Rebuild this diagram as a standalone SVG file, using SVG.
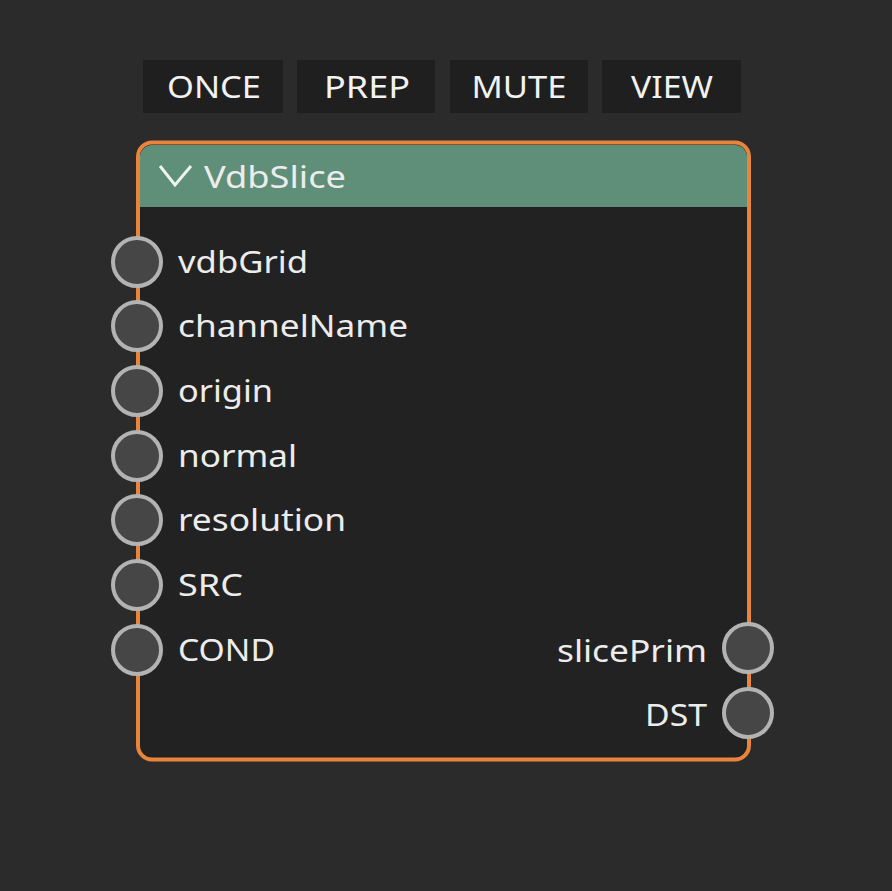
<svg xmlns="http://www.w3.org/2000/svg" width="892" height="891" viewBox="0 0 892 891">
<style>
.btn{fill:#1f1f1f}
.btxt{font-family:"Noto Sans","Open Sans",sans-serif;font-size:30px;fill:#f2f2f2;text-anchor:middle}
.lbl{font-family:"Noto Sans","Open Sans",sans-serif;font-size:30px;fill:#ececec}
.sock{fill:#464646;stroke:#b3b3b3;stroke-width:4}
</style>
<rect width="892" height="891" fill="#2b2b2b"/>
<g id="buttons">
<rect class="btn" x="143" y="60" width="140" height="53"/>
<text class="btxt" x="214" y="98" textLength="94" lengthAdjust="spacingAndGlyphs">ONCE</text>
<rect class="btn" x="297" y="60" width="138" height="53"/>
<text class="btxt" x="367" y="98" textLength="86" lengthAdjust="spacingAndGlyphs">PREP</text>
<rect class="btn" x="450" y="60" width="138" height="53"/>
<text class="btxt" x="519" y="98" textLength="95" lengthAdjust="spacingAndGlyphs">MUTE</text>
<rect class="btn" x="602" y="60" width="139" height="53"/>
<text class="btxt" x="672" y="98" textLength="82" lengthAdjust="spacingAndGlyphs">VIEW</text>
</g>
<g id="node-VdbSlice">
<rect x="138" y="142.5" width="611" height="617" rx="14" fill="#222222" stroke="#e8843c" stroke-width="4"/>
<path d="M140,207 V157 A12,12 0 0 1 152,145 H735 A12,12 0 0 1 747,157 V207 Z" fill="#5f8f78"/>
<path d="M160,166 L175,185 L191,166" fill="none" stroke="#eef4f0" stroke-width="3"/>
<text class="lbl" x="204" y="188" textLength="142" lengthAdjust="spacingAndGlyphs">VdbSlice</text>
</g>
<g id="inputs">
<circle class="sock" cx="137" cy="262" r="24"/><text class="lbl" x="178" y="273" textLength="130" lengthAdjust="spacingAndGlyphs">vdbGrid</text>
<circle class="sock" cx="137" cy="326" r="24"/><text class="lbl" x="178" y="337" textLength="230" lengthAdjust="spacingAndGlyphs">channelName</text>
<circle class="sock" cx="137" cy="391" r="24"/><text class="lbl" x="178" y="402" textLength="95" lengthAdjust="spacingAndGlyphs">origin</text>
<circle class="sock" cx="137" cy="456" r="24"/><text class="lbl" x="178" y="467" textLength="119" lengthAdjust="spacingAndGlyphs">normal</text>
<circle class="sock" cx="137" cy="520" r="24"/><text class="lbl" x="178" y="531" textLength="168" lengthAdjust="spacingAndGlyphs">resolution</text>
<circle class="sock" cx="137" cy="585" r="24"/><text class="lbl" x="178" y="596" textLength="65" lengthAdjust="spacingAndGlyphs">SRC</text>
<circle class="sock" cx="137" cy="650" r="24"/><text class="lbl" x="178" y="661" textLength="97" lengthAdjust="spacingAndGlyphs">COND</text>
</g>
<g id="outputs">
<circle class="sock" cx="748" cy="648" r="24"/><text class="lbl" x="707" y="662" text-anchor="end" textLength="150" lengthAdjust="spacingAndGlyphs">slicePrim</text>
<circle class="sock" cx="748" cy="713" r="24"/><text class="lbl" x="707" y="726" text-anchor="end" textLength="62" lengthAdjust="spacingAndGlyphs">DST</text>
</g>
<g id="connectors"></g>
</svg>
